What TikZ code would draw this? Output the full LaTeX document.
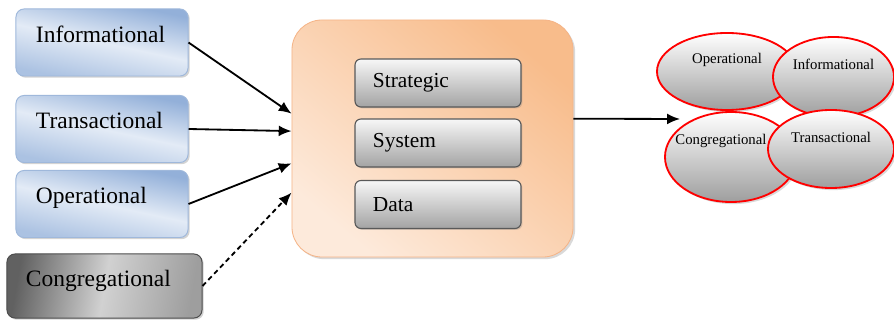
\documentclass[tikz,border=0pt]{standalone}
\usepackage{fontspec}
\setmainfont{Liberation Serif}
\usetikzlibrary{arrows.meta,shapes.geometric,shadows}

\definecolor{blueTop}{HTML}{93B0D9}
\definecolor{blueBot}{HTML}{E3EBF6}
\definecolor{blueLine}{HTML}{9FB8DB}
\definecolor{hubDark}{HTML}{F8BC8B}
\definecolor{hubLight}{HTML}{FDEADB}
\definecolor{hubLine}{HTML}{F5B487}
\definecolor{layerTop}{HTML}{F7F7F7}
\definecolor{layerBot}{HTML}{A3A3A3}

\tikzset{
    srcbox/.style={draw=blueLine, line width=0.7pt, rounded corners=0.2cm,
        top color=blueTop, bottom color=blueTop!70!blueBot, middle color=blueBot,
        shading angle=-12,
        minimum width=4.3cm, minimum height=1.675cm, text width=3.3cm,
        inner xsep=0.5cm, align=left, text height=0.45cm, text depth=0.45cm,
        font=\fontsize{16.7}{19}\selectfont,
        drop shadow={opacity=0.35, shadow xshift=1.2pt, shadow yshift=-1.2pt}},
    extbox/.style={srcbox, draw=black!70, left color=black!62, right color=black!38,
        middle color=black!18, shading angle=80, minimum width=4.875cm, minimum height=1.6cm,
        text width=3.925cm, inner xsep=0.475cm},
    hubbox/.style={draw=hubLine, line width=0.6pt, rounded corners=0.75cm,
        top color=hubDark, bottom color=hubLight, shading angle=-40,
        minimum width=7.025cm, minimum height=5.925cm,
        drop shadow={opacity=0.3, shadow xshift=1.5pt, shadow yshift=-1.5pt}},
    layerbox/.style={draw=black!65, line width=0.8pt, rounded corners=0.15cm,
        top color=layerTop, bottom color=layerBot,
        minimum width=4.15cm, minimum height=1.2cm, text width=3.25cm,
        inner xsep=0.45cm, align=left, font=\fontsize{15.2}{17}\selectfont,
        drop shadow={opacity=0.3, shadow xshift=1pt, shadow yshift=-1pt}},
    typeell/.style={ellipse, draw=red, line width=1.3pt, inner sep=0pt,
        top color=white, bottom color=black!38,
        text height=0.25cm, text depth=0.625cm,
        font=\fontsize{10.5}{12}\selectfont,
        drop shadow={opacity=0.3, shadow xshift=1.5pt, shadow yshift=-1.5pt}},
    flow/.style={line width=1.3pt, -{Latex[length=0.32cm, width=0.27cm]}}
}

\begin{document}
\begin{tikzpicture}[x=0.025cm, y=-0.025cm]
    \useasboundingbox (0,0) rectangle (894,320);

    % 输入
    \node[srcbox] (info) at (102,42.5) {Informational};
    \node[srcbox] (trans) at (102,129) {Transactional};
    \node[srcbox] (oper) at (102,204) {Operational};
    \node[extbox] (congr) at (104.5,286) {Congregational};

    % 中间
    \node[hubbox] (hub) at (432.5,138.5) {};
    \node[layerbox] (strat) at (438,83) {Strategic};
    \node[layerbox] (sys) at (438,143) {System};
    \node[layerbox] (data) at (438,204.5) {Data};

    % 输出
    \node[typeell, minimum width=3.5cm, minimum height=1.925cm] (eoper) at (727,71.5) {Operational};
    \node[typeell, minimum width=3.025cm, minimum height=2cm] (einfo) at (833.5,77) {Informational};
    \node[typeell, minimum width=3.3cm, minimum height=2.25cm, text depth=0.875cm] (econgr) at (731,157) {\hspace*{-0.5cm}Congregational};
    \node[typeell, minimum width=3.15cm, minimum height=1.95cm, text depth=0.55cm] (etrans) at (831,149) {Transactional};
    \coordinate (out) at (680,119);

    % 连线
    \draw[flow] (info.east) -- (hub.170);
    \draw[flow] (trans.east) -- (hub.177);
    \draw[flow] (oper.east) -- (hub.190);
    \draw[flow, dash pattern=on 3.5pt off 2.5pt] (congr.east) -- (hub.201);
    \draw[flow] (hub.8) -- (out);
\end{tikzpicture}
\end{document}
